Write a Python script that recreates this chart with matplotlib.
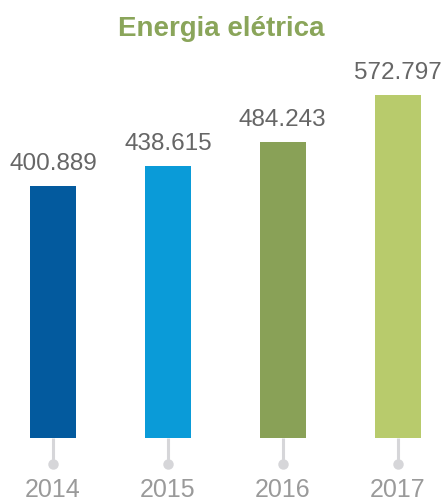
import matplotlib.pyplot as plt
import numpy as np

years = ["2014", "2015", "2016", "2017"]
values = [400.889, 438.615, 484.243, 572.797]
labels = ["400.889", "438.615", "484.243", "572.797"]
colors = ["#035a9e", "#0a9bd8", "#89a157", "#b8cb6c"]

plt.rcParams['font.family'] = ['Liberation Sans', 'DejaVu Sans']

fig = plt.figure(figsize=(4.42, 5.02), dpi=100)
# axes spans pixel rows 60..439
ax = fig.add_axes([0, 63 / 502, 1, 379 / 502])
base = -75.6
x = np.arange(len(years))
ax.bar(x, np.array(values) - base, bottom=base, width=0.4, color=colors)
ax.set_ylim(base, 640.8)
ax.set_xlim(-0.46, 3.385)
ax.axis('off')

for xi, v, lab in zip(x, values, labels):
    ax.annotate(lab, (xi, v), xytext=(0, 12.2), textcoords='offset points',
                ha='center', va='baseline', fontsize=17.5, color='#666666')

tr = ax.get_xaxis_transform()
for xi, yr in zip(x, years):
    ax.plot([xi, xi], [0, -0.0686], transform=tr, color='#d6d6d9', lw=2.2,
            clip_on=False, solid_capstyle='butt')
    ax.plot([xi], [-0.0686], transform=tr, marker='o', ms=6.5, color='#d6d6d9',
            clip_on=False)
    ax.text(xi, -0.152, yr, transform=tr, ha='center', va='baseline',
            fontsize=18, color='#9a9a9a')

fig.text(0.5, 1 - 36 / 502, "Energia elétrica", ha='center', va='baseline',
         fontsize=20, fontweight='bold', color='#8aa55a')

fig.savefig('out.png', dpi=100)
